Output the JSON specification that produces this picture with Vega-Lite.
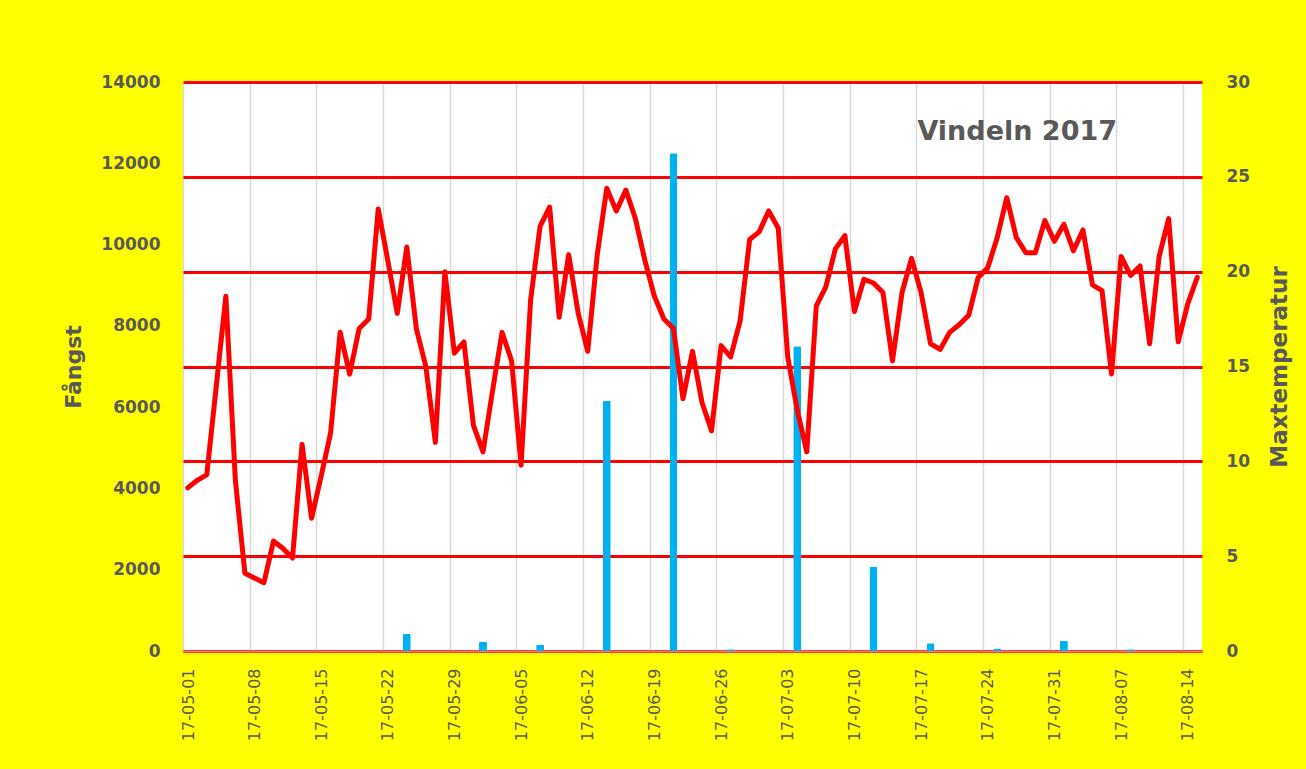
{
  "$schema": "https://vega.github.io/schema/vega-lite/v6.json",
  "width": 1019,
  "height": 569,
  "autosize": {"type": "none"},
  "padding": {"left": 183, "top": 82, "right": 104, "bottom": 118},
  "background": "#FFFF00",
  "config": {"view": {"fill": "white", "stroke": null}, "font": "DejaVu Sans"},
  "title": {
    "text": "Vindeln 2017",
    "anchor": "end",
    "frame": "group",
    "offset": -94,
    "dx": -85,
    "baseline": "alphabetic",
    "font": "DejaVu Sans",
    "fontSize": 27,
    "fontWeight": "bold",
    "color": "#595959"
  },
  "datasets": {
    "catch": [
      {"date": "2017-05-24T12:00", "fangst": 420},
      {"date": "2017-06-01T12:00", "fangst": 230},
      {"date": "2017-06-07T12:00", "fangst": 160},
      {"date": "2017-06-14T12:00", "fangst": 6150},
      {"date": "2017-06-21T12:00", "fangst": 12250},
      {"date": "2017-06-27T12:00", "fangst": 40},
      {"date": "2017-07-04T12:00", "fangst": 7500},
      {"date": "2017-07-12T12:00", "fangst": 2080},
      {"date": "2017-07-18T12:00", "fangst": 190},
      {"date": "2017-07-25T12:00", "fangst": 50},
      {"date": "2017-08-01T12:00", "fangst": 250},
      {"date": "2017-08-08T12:00", "fangst": 40}
    ],
    "temp": [
      {"date": "2017-05-01T12:00", "temp": 8.6},
      {"date": "2017-05-02T12:00", "temp": 9.0},
      {"date": "2017-05-03T12:00", "temp": 9.3},
      {"date": "2017-05-04T12:00", "temp": 14.0},
      {"date": "2017-05-05T12:00", "temp": 18.7},
      {"date": "2017-05-06T12:00", "temp": 9.0},
      {"date": "2017-05-07T12:00", "temp": 4.1},
      {"date": "2017-05-08T12:00", "temp": 3.85},
      {"date": "2017-05-09T12:00", "temp": 3.6},
      {"date": "2017-05-10T12:00", "temp": 5.8},
      {"date": "2017-05-11T12:00", "temp": 5.4},
      {"date": "2017-05-12T12:00", "temp": 4.9},
      {"date": "2017-05-13T12:00", "temp": 10.9},
      {"date": "2017-05-14T12:00", "temp": 7.0},
      {"date": "2017-05-15T12:00", "temp": 9.2},
      {"date": "2017-05-16T12:00", "temp": 11.5},
      {"date": "2017-05-17T12:00", "temp": 16.8},
      {"date": "2017-05-18T12:00", "temp": 14.6},
      {"date": "2017-05-19T12:00", "temp": 17.0},
      {"date": "2017-05-20T12:00", "temp": 17.5},
      {"date": "2017-05-21T12:00", "temp": 23.3},
      {"date": "2017-05-22T12:00", "temp": 20.6},
      {"date": "2017-05-23T12:00", "temp": 17.8},
      {"date": "2017-05-24T12:00", "temp": 21.3},
      {"date": "2017-05-25T12:00", "temp": 17.0},
      {"date": "2017-05-26T12:00", "temp": 15.0},
      {"date": "2017-05-27T12:00", "temp": 11.0},
      {"date": "2017-05-28T12:00", "temp": 20.0},
      {"date": "2017-05-29T12:00", "temp": 15.7},
      {"date": "2017-05-30T12:00", "temp": 16.3},
      {"date": "2017-05-31T12:00", "temp": 11.9},
      {"date": "2017-06-01T12:00", "temp": 10.5},
      {"date": "2017-06-02T12:00", "temp": 13.7},
      {"date": "2017-06-03T12:00", "temp": 16.8},
      {"date": "2017-06-04T12:00", "temp": 15.3},
      {"date": "2017-06-05T12:00", "temp": 9.8},
      {"date": "2017-06-06T12:00", "temp": 18.5},
      {"date": "2017-06-07T12:00", "temp": 22.4},
      {"date": "2017-06-08T12:00", "temp": 23.4},
      {"date": "2017-06-09T12:00", "temp": 17.6},
      {"date": "2017-06-10T12:00", "temp": 20.9},
      {"date": "2017-06-11T12:00", "temp": 17.8},
      {"date": "2017-06-12T12:00", "temp": 15.8},
      {"date": "2017-06-13T12:00", "temp": 20.9},
      {"date": "2017-06-14T12:00", "temp": 24.4},
      {"date": "2017-06-15T12:00", "temp": 23.2},
      {"date": "2017-06-16T12:00", "temp": 24.3},
      {"date": "2017-06-17T12:00", "temp": 22.8},
      {"date": "2017-06-18T12:00", "temp": 20.6},
      {"date": "2017-06-19T12:00", "temp": 18.7},
      {"date": "2017-06-20T12:00", "temp": 17.5},
      {"date": "2017-06-21T12:00", "temp": 17.0},
      {"date": "2017-06-22T12:00", "temp": 13.3},
      {"date": "2017-06-23T12:00", "temp": 15.8},
      {"date": "2017-06-24T12:00", "temp": 13.1},
      {"date": "2017-06-25T12:00", "temp": 11.6},
      {"date": "2017-06-26T12:00", "temp": 16.1},
      {"date": "2017-06-27T12:00", "temp": 15.5},
      {"date": "2017-06-28T12:00", "temp": 17.4},
      {"date": "2017-06-29T12:00", "temp": 21.7},
      {"date": "2017-06-30T12:00", "temp": 22.1},
      {"date": "2017-07-01T12:00", "temp": 23.2},
      {"date": "2017-07-02T12:00", "temp": 22.3},
      {"date": "2017-07-03T12:00", "temp": 15.5},
      {"date": "2017-07-04T12:00", "temp": 12.7},
      {"date": "2017-07-05T12:00", "temp": 10.5},
      {"date": "2017-07-06T12:00", "temp": 18.2},
      {"date": "2017-07-07T12:00", "temp": 19.2},
      {"date": "2017-07-08T12:00", "temp": 21.2},
      {"date": "2017-07-09T12:00", "temp": 21.9},
      {"date": "2017-07-10T12:00", "temp": 17.9},
      {"date": "2017-07-11T12:00", "temp": 19.6},
      {"date": "2017-07-12T12:00", "temp": 19.4},
      {"date": "2017-07-13T12:00", "temp": 18.9},
      {"date": "2017-07-14T12:00", "temp": 15.3},
      {"date": "2017-07-15T12:00", "temp": 18.9},
      {"date": "2017-07-16T12:00", "temp": 20.7},
      {"date": "2017-07-17T12:00", "temp": 18.9},
      {"date": "2017-07-18T12:00", "temp": 16.2},
      {"date": "2017-07-19T12:00", "temp": 15.9},
      {"date": "2017-07-20T12:00", "temp": 16.8},
      {"date": "2017-07-21T12:00", "temp": 17.2},
      {"date": "2017-07-22T12:00", "temp": 17.7},
      {"date": "2017-07-23T12:00", "temp": 19.7},
      {"date": "2017-07-24T12:00", "temp": 20.2},
      {"date": "2017-07-25T12:00", "temp": 21.8},
      {"date": "2017-07-26T12:00", "temp": 23.9},
      {"date": "2017-07-27T12:00", "temp": 21.8},
      {"date": "2017-07-28T12:00", "temp": 21.0},
      {"date": "2017-07-29T12:00", "temp": 21.0},
      {"date": "2017-07-30T12:00", "temp": 22.7},
      {"date": "2017-07-31T12:00", "temp": 21.6},
      {"date": "2017-08-01T12:00", "temp": 22.5},
      {"date": "2017-08-02T12:00", "temp": 21.1},
      {"date": "2017-08-03T12:00", "temp": 22.2},
      {"date": "2017-08-04T12:00", "temp": 19.3},
      {"date": "2017-08-05T12:00", "temp": 19.0},
      {"date": "2017-08-06T12:00", "temp": 14.6},
      {"date": "2017-08-07T12:00", "temp": 20.8},
      {"date": "2017-08-08T12:00", "temp": 19.8},
      {"date": "2017-08-09T12:00", "temp": 20.3},
      {"date": "2017-08-10T12:00", "temp": 16.2},
      {"date": "2017-08-11T12:00", "temp": 20.8},
      {"date": "2017-08-12T12:00", "temp": 22.8},
      {"date": "2017-08-13T12:00", "temp": 16.3},
      {"date": "2017-08-14T12:00", "temp": 18.3},
      {"date": "2017-08-15T12:00", "temp": 19.7}
    ]
  },
  "encoding": {
    "x": {
      "field": "date",
      "type": "temporal",
      "scale": {
        "domain": [
          {"year": 2017, "month": 5, "date": 1},
          {"year": 2017, "month": 8, "date": 16}
        ],
        "nice": false,
        "padding": 0
      },
      "axis": {
        "title": null,
        "values": [
          {"year": 2017, "month": 5, "date": 1},
          {"year": 2017, "month": 5, "date": 8},
          {"year": 2017, "month": 5, "date": 15},
          {"year": 2017, "month": 5, "date": 22},
          {"year": 2017, "month": 5, "date": 29},
          {"year": 2017, "month": 6, "date": 5},
          {"year": 2017, "month": 6, "date": 12},
          {"year": 2017, "month": 6, "date": 19},
          {"year": 2017, "month": 6, "date": 26},
          {"year": 2017, "month": 7, "date": 3},
          {"year": 2017, "month": 7, "date": 10},
          {"year": 2017, "month": 7, "date": 17},
          {"year": 2017, "month": 7, "date": 24},
          {"year": 2017, "month": 7, "date": 31},
          {"year": 2017, "month": 8, "date": 7},
          {"year": 2017, "month": 8, "date": 14}
        ],
        "format": "%y-%m-%d",
        "labelAngle": -90,
        "labelPadding": 17,
        "labelOffset": 5,
        "labelFont": "DejaVu Sans",
        "labelFontSize": 16,
        "labelColor": "#595959",
        "labelOverlap": false,
        "labelBound": false,
        "labelFlush": false,
        "ticks": false,
        "tickSize": 0,
        "grid": true,
        "gridColor": "#D9D9D9",
        "gridWidth": 1.5,
        "domain": true,
        "domainColor": "#F47A7A",
        "domainWidth": 2
      }
    }
  },
  "layer": [
    {
      "data": {"name": "catch"},
      "mark": {"type": "bar", "color": "#00B0F0", "size": 8, "cornerRadius": 1.5},
      "encoding": {
        "y": {
          "field": "fangst",
          "type": "quantitative",
          "scale": {"domain": [0, 14000], "nice": false},
          "axis": {
            "orient": "left",
            "values": [0, 2000, 4000, 6000, 8000, 10000, 12000, 14000],
            "format": "d",
            "grid": false,
            "ticks": false,
            "tickSize": 0,
            "domain": false,
            "labelFont": "DejaVu Sans",
            "labelFontWeight": "bold",
            "labelFontSize": 17,
            "labelColor": "#595959",
            "labelPadding": 23,
            "title": "Fångst",
            "titleFont": "DejaVu Sans",
            "titleFontSize": 22,
            "titleFontWeight": "bold",
            "titleColor": "#595959",
            "titleAngle": -90,
            "titleAlign": "center",
            "titleBaseline": "middle",
            "titleX": -110,
            "titleY": 284.5
          }
        }
      }
    },
    {
      "data": {"name": "temp"},
      "mark": {"type": "line", "color": "#FF0000", "strokeWidth": 5, "strokeCap": "round", "strokeJoin": "round"},
      "encoding": {
        "y": {
          "field": "temp",
          "type": "quantitative",
          "scale": {"domain": [0, 30], "nice": false},
          "axis": {
            "orient": "right",
            "values": [0, 5, 10, 15, 20, 25, 30],
            "grid": true,
            "gridColor": "#FF0000",
            "gridWidth": 3,
            "ticks": false,
            "tickSize": 0,
            "domain": false,
            "labelFont": "DejaVu Sans",
            "labelFontWeight": "bold",
            "labelFontSize": 17,
            "labelColor": "#595959",
            "labelPadding": 24,
            "title": "Maxtemperatur",
            "titleFont": "DejaVu Sans",
            "titleFontSize": 23,
            "titleFontWeight": "bold",
            "titleColor": "#595959",
            "titleAngle": -90,
            "titleAlign": "center",
            "titleBaseline": "middle",
            "titleX": 77,
            "titleY": 284.5
          }
        }
      }
    }
  ],
  "resolve": {"scale": {"y": "independent"}}
}
